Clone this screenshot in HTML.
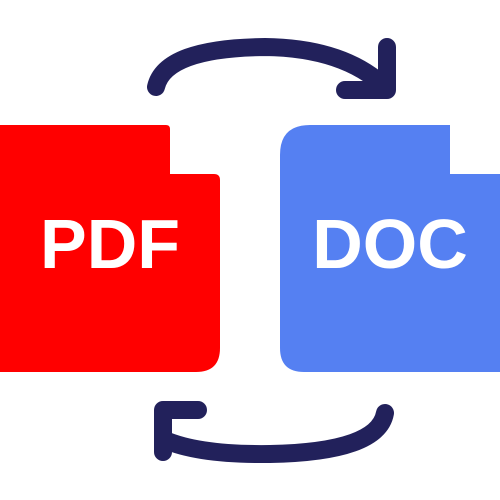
<!DOCTYPE html>
<html><head><style>body{margin:0;background:#fff}svg{display:block}</style></head><body>
<svg width="500" height="500" viewBox="0 0 500 500">
<path d="M0 125 H166 Q170 125 170 129 V174 H214 Q220 174 220 180 V348 Q220 372 196 372 H0 Z" fill="#ff0000"/>
<path d="M310 125 H450 V174 H500 V372 H304 Q280 372 280 348 V155 Q280 125 310 125 Z" fill="#5580f2"/>
<text x="110" y="268" font-family="Liberation Sans, sans-serif" font-weight="bold" font-size="70" fill="#fff" text-anchor="middle">PDF</text>
<text x="390" y="268" font-family="Liberation Sans, sans-serif" font-weight="bold" font-size="70" fill="#fff" text-anchor="middle">DOC</text>
<g fill="none" stroke="#22215b" stroke-width="18" stroke-linecap="round" stroke-linejoin="round">
<path d="M156 87 Q165 48 265 47 Q345 48 386 88"/>
<path d="M387 47 V90 H345"/>
<path d="M385 413 Q378 452 270 454 Q200 455 165 440"/>
<path d="M163 452 V410 H198"/>
</g>
</svg>
</body></html>
